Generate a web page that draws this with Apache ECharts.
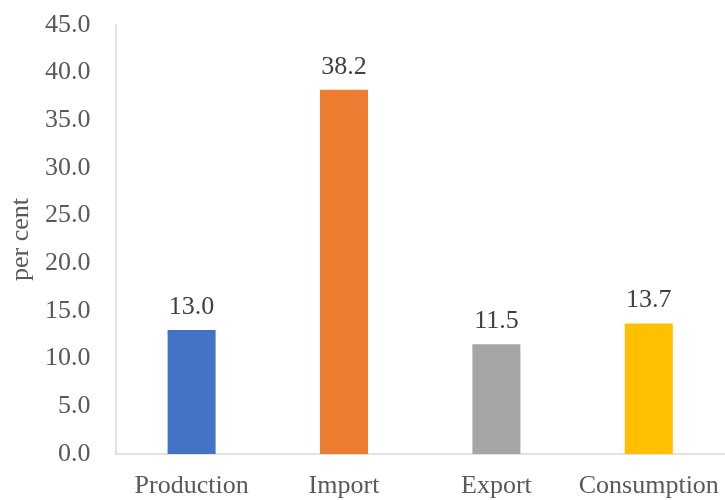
<!DOCTYPE html>
<html><head><meta charset="utf-8">
<script src="https://cdn.jsdelivr.net/npm/echarts@6/dist/echarts.min.js"></script>
<style>html,body{margin:0;padding:0;background:#fff}#c{width:725px;height:500px}</style>
</head><body><div id="c"></div>
<script>
var categories = ['Production', 'Import', 'Export', 'Consumption'];
var values = [13.0, 38.2, 11.5, 13.7];
var barColors = ['#4472C4', '#ED7D31', '#A5A5A5', '#FFC000'];
var yTicks = [0, 5, 10, 15, 20, 25, 30, 35, 40, 45];

var font = 'Liberation Serif';
var chart = echarts.init(document.getElementById('c'));
chart.setOption({
  animation: false,
  grid: { left: 114, right: -1, top: 25, bottom: 46, containLabel: false },
  xAxis: {
    type: 'category', data: categories,
    axisLine: { lineStyle: { color: '#D9D9D9', width: 1.5 } },
    axisTick: { show: false },
    axisLabel: { interval: 0, color: '#595959', fontFamily: font, fontSize: 26, margin: 19 }
  },
  yAxis: {
    type: 'value', min: yTicks[0], max: yTicks[yTicks.length - 1], interval: 5,
    name: 'per cent', nameLocation: 'middle', nameGap: 78,
    nameTextStyle: { color: '#595959', fontFamily: font, fontSize: 26 },
    axisLine: { show: true, lineStyle: { color: '#D9D9D9', width: 1.5 } },
    axisTick: { show: false },
    splitLine: { show: false },
    axisLabel: { color: '#595959', fontFamily: font, fontSize: 26, margin: 25,
      formatter: function (v) { return v.toFixed(1); } }
  },
  series: [{
    type: 'bar', barWidth: 48,
    data: values.map(function (v, i) { return { value: v, itemStyle: { color: barColors[i] } }; }),
    label: { show: true, position: 'top', distance: 10, color: '#404040', fontFamily: font, fontSize: 26,
      formatter: function (p) { return p.value.toFixed(1); } }
  }]
});
</script></body></html>
